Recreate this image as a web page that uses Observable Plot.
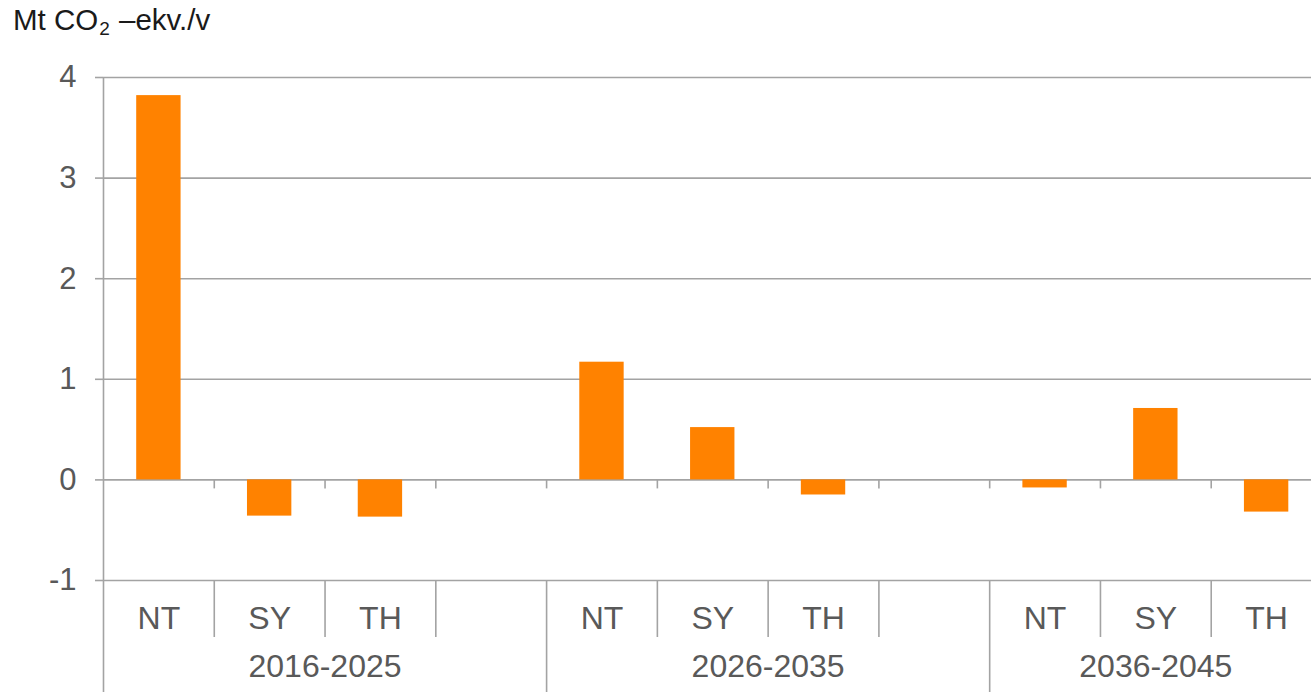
<!DOCTYPE html>
<html>
<head>
<meta charset="utf-8">
<script src="https://cdn.jsdelivr.net/npm/d3@7"></script>
<script src="https://cdn.jsdelivr.net/npm/@observablehq/plot@0.6"></script>
<style>
  html, body { margin: 0; padding: 0; background: #ffffff; overflow: hidden; }
  #wrap { position: relative; width: 1311px; height: 692px; overflow: hidden; }
  #chart { position: absolute; left: 0; top: 0; width: 1311px; }
  #title { position: absolute; left: 13px; top: 5px; font-family: "Liberation Sans", Arial, sans-serif;
           font-size: 29.5px; line-height: 29px; color: #1a1a1a; white-space: nowrap; z-index: 2; }
  #title sub { font-size: 19px; position: relative; top: 5px; vertical-align: baseline; margin: 0 1px; }
</style>
</head>
<body>
<div id="wrap">
  <div id="title">Mt CO<sub>2</sub> –ekv./v</div>
  <div id="chart"></div>
</div>
<script>
// ---- data ----
const groups = ["2016-2025", "2026-2035", "2036-2045"];
const categories = ["NT", "SY", "TH"];
const values2016 = [3.82, -0.36, -0.37];
const values2026 = [1.17, 0.52, -0.15];
const values2036 = [-0.08, 0.71, -0.32];
const yTicks = [-1, 0, 1, 2, 3, 4];

// ---- derived table ----
const series = [values2016, values2026, values2036];
const perGroup = categories.length + 1;           // categories plus a blank slot
const nSlots = groups.length * perGroup - 1;      // last group's blank slot is cropped
const rows = [];
groups.forEach((g, gi) => categories.forEach((c, ci) => {
  rows.push({group: g, cat: c, slot: gi * perGroup + ci, value: series[gi][ci]});
}));
const boundaries = d3.range(1, nSlots);
const groupStarts = groups.map((g, gi) => gi * perGroup);
const innerBounds = boundaries.filter(b => !groupStarts.includes(b));
const groupLabels = groups.map((g, gi) => ({
  label: g,
  center: gi * perGroup + Math.min(perGroup, nSlots - gi * perGroup) / 2
}));

const orange = "#FF8200";
const grid = "#A3A3A3";
const textColor = "#595959";
const font = '"Liberation Sans", Arial, sans-serif';

const chart = Plot.plot({
  width: 1311,
  height: 692,
  marginLeft: 103,
  marginRight: 0,
  marginTop: 77,
  marginBottom: 112,
  x: {domain: [0, nSlots], range: [103, 1321.5], axis: null},
  y: {domain: [-1, 4], axis: null},
  style: {fontFamily: font, background: "white", maxWidth: "none"},
  marks: [
    Plot.ruleY(yTicks, {stroke: grid, strokeWidth: 1.6}),
    Plot.rectY(rows, {x1: "slot", x2: d => d.slot + 1, y1: 0, y2: "value", fill: orange, insetLeft: 33.2, insetRight: 33.2}),
    // y axis line, extending through the category table
    Plot.ruleX([0], {stroke: grid, strokeWidth: 1.6, insetBottom: -112}),
    // small ticks below the zero line
    Plot.ruleX(boundaries, {y1: 0, y2: 0, insetBottom: -9, stroke: grid, strokeWidth: 1.6}),
    // category separators
    Plot.ruleX(innerBounds, {y1: -1, y2: -1, insetBottom: -57, stroke: grid, strokeWidth: 1.6}),
    Plot.ruleX(groupStarts.slice(1), {y1: -1, y2: -1, insetBottom: -112, stroke: grid, strokeWidth: 1.6}),
    Plot.axisY({ticks: yTicks, tickSize: 8, tickPadding: 19, stroke: grid, strokeWidth: 1.6, fill: textColor, fontSize: 31, label: null, tickFormat: d => String(d)}),
    Plot.text(rows, {x: d => d.slot + 0.5, text: "cat", frameAnchor: "bottom", lineAnchor: "middle", dy: 38, fontSize: 32, fill: textColor}),
    Plot.text(groupLabels, {x: "center", text: "label", frameAnchor: "bottom", lineAnchor: "middle", dy: 86, fontSize: 32, fill: textColor})
  ]
});
document.getElementById("chart").appendChild(chart);
</script>
</body>
</html>
